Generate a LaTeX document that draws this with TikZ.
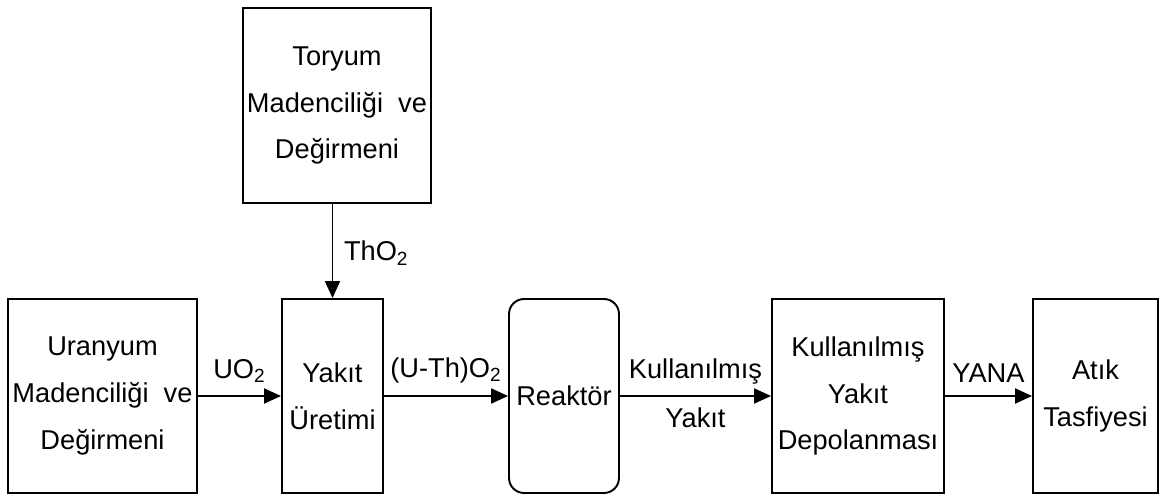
\documentclass[tikz,border=0pt]{standalone}
\usepackage{fontspec}
\setmainfont{Liberation Sans}
\usetikzlibrary{arrows.meta}

\begin{document}
\begin{tikzpicture}[x=0.02cm, y=-0.02cm,
    kutu/.style={draw=black, line width=1.1pt, align=center, inner sep=0pt,
                 minimum height=3.88cm, font=\fontsize{15.5}{26.7}\selectfont},
    ok/.style={line width=1.1pt, -{Triangle[length=0.34cm, width=0.3cm]}},
    etiket/.style={font=\fontsize{15.5}{26.7}\selectfont, inner sep=0pt}]

       \pgfmathsetmacro{\hatY}{396}

       %% kutular soldan saga
       \useasboundingbox (0,0) rectangle (1161,496);
       \node[kutu, minimum width=3.78cm] (uranyum) at (102.5,\hatY)
            {Uranyum\\Madenciliği~ ve\\Değirmeni};
       \node[kutu, minimum width=2.02cm] (uretim) at (332.5,\hatY)
            {Yakıt\\Üretimi};
       \node[kutu, minimum width=2.2cm, rounded corners=0.3cm] (reaktor) at (564,\hatY)
            {Reaktör};
       \node[kutu, minimum width=3.44cm] (depo) at (858,\hatY)
            {Kullanılmış\\Yakıt\\Depolanması};
       \node[kutu, minimum width=2.5cm] (atik) at (1095.5,\hatY)
            {Atık\\Tasfiyesi};
       \node[kutu, minimum width=3.76cm, minimum height=3.9cm] (toryum) at (337,105.5)
            {Toryum\\Madenciliği~ ve\\Değirmeni};

       %% oklar
       \draw[ok] (uretim.north |- toryum.south) -- node[etiket, right=6pt, pos=0.52] {ThO\textsubscript{2}} (uretim.north);
       \draw[ok] (uranyum) -- node[etiket, above=7pt] {UO\textsubscript{2}} (uretim);
       \draw[ok] (uretim) -- node[etiket, above=7pt] {(U-Th)O\textsubscript{2}} (reaktor);
       \draw[ok] (reaktor) -- node[etiket, above=6pt] {Kullanılmış}
            node[etiket, below=6pt] {Yakıt} (depo);
       \draw[ok] (depo) -- node[etiket, above=7pt] {YANA} (atik);
    \end{tikzpicture}
\end{document}
